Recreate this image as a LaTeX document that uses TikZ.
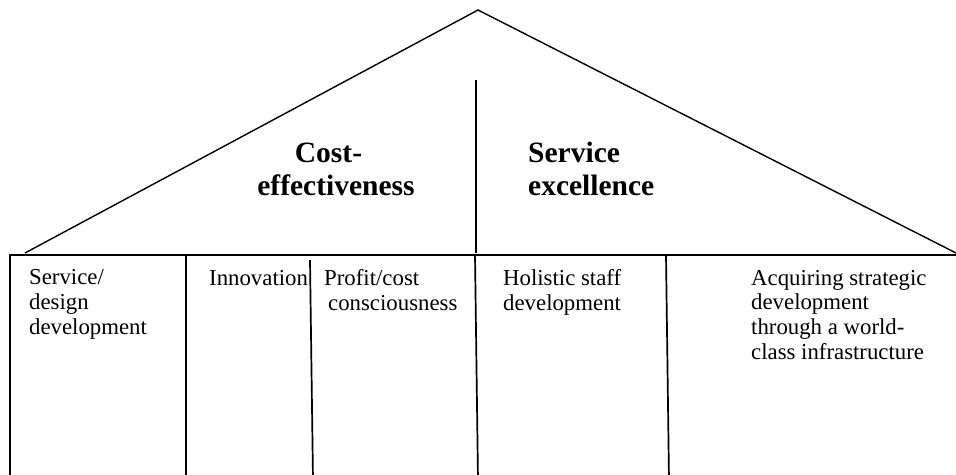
\documentclass[tikz,border=0pt]{standalone}
\usepackage{fontspec}
\setmainfont{Liberation Serif}
\usepackage{tikz}
\newcommand\pillar[3]{\node[plabel] (#1) at (#2) {#3};}
\newcommand\post[3]{\coordinate (#1a) at (#2); \coordinate (#1b) at (#3); \path[post] (#1a) -- (#1b);}

\begin{document}
\begin{tikzpicture}[x=1pt,y=-1pt]
\tikzstyle{plabel}=[anchor=base west,align=left,inner sep=0pt,font=\fontsize{22.8}{24.6}\selectfont]
\tikzstyle{title}=[anchor=base,inner sep=0pt,font=\fontsize{29.5}{33}\selectfont\bfseries]
\tikzstyle{roof}=[draw,line width=1.4pt,line join=miter]
\tikzstyle{post}=[draw,line width=1.7pt]
\useasboundingbox (0,0) rectangle (956,474);
\coordinate (apex) at (478,10);
\coordinate (eaveL) at (25,253);
\coordinate (eaveR) at (956,253);
\coordinate (ridge) at (476,80);
\coordinate (ridgefoot) at (476,253);
\path[roof] (eaveL) -- (apex) -- (eaveR);
\path[roof] (ridge) -- (ridgefoot);
\coordinate (beamL) at (10,255);
\coordinate (beamR) at (956,255);
\coordinate (wallL) at (10,480);
\path[post] (beamR) -- (beamL) -- (wallL);
\post{p1}{186,255}{186,480}
\post{p2}{310,260}{313,480}
\post{p3}{475,255}{478,480}
\post{p4}{666,255}{669,480}
\node[title,align=center] (cost) at (336,195) {Cost-\hspace*{15pt}\\effectiveness};
\node[title,align=left,anchor=base west] (excel) at (528,195) {Service\\excellence};
\pillar{design}{29,334}{Service/\\design\\development}
\pillar{innov}{209,285}{Innovation}
\pillar{profit}{324,310}{Profit/cost\\\hspace*{4pt}consciousness}
\pillar{staff}{503,310}{Holistic staff\\development}
\pillar{infra}{751,359}{Acquiring strategic\\development\\through a world-\\class infrastructure}
\end{tikzpicture}
\end{document}
